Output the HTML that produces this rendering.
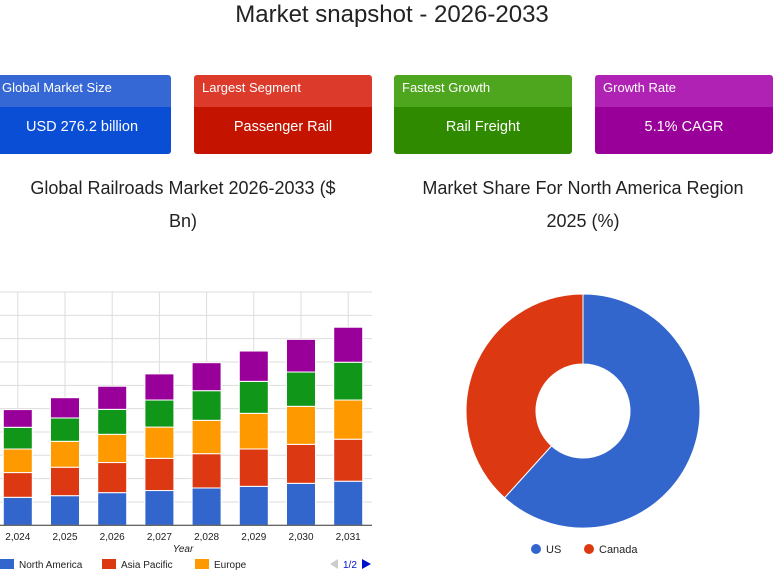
<!DOCTYPE html>
<html><head><meta charset="utf-8"><style>
body{margin:0;width:784px;height:587px;background:#fff;font-family:"Liberation Sans",sans-serif;overflow:hidden;position:relative}
.t{position:absolute;color:#222;text-align:center}
.card{position:absolute;top:75px;width:178px;height:79px;border-radius:3px;overflow:hidden;color:#fff}
.card .h{height:32px;font-size:13px;line-height:26px;padding-left:8px}
.card .b{height:47px;font-size:14.5px;text-align:center;line-height:40px}
</style></head><body>
<div class="t" style="left:0;width:784px;top:0;font-size:24px;line-height:30px">Market snapshot - 2026-2033</div>
<div class="card" style="left:-7px"><div class="h" style="background:#3568d4;padding-left:9px">Global Market Size</div><div class="b" style="background:#0b4ed6">USD 276.2 billion</div></div>
<div class="card" style="left:194px"><div class="h" style="background:#dc3a2a">Largest Segment</div><div class="b" style="background:#c41400">Passenger Rail</div></div>
<div class="card" style="left:394px"><div class="h" style="background:#4ea51e">Fastest Growth</div><div class="b" style="background:#2f8a00">Rail Freight</div></div>
<div class="card" style="left:595px"><div class="h" style="background:#b022b3">Growth Rate</div><div class="b" style="background:#990099">5.1% CAGR</div></div>
<div class="t" style="left:0;width:366px;top:172px;font-size:18px;line-height:33px">Global Railroads Market 2026-2033 ($<br>Bn)</div>
<div class="t" style="left:395px;width:376px;top:172px;font-size:18px;line-height:33px">Market Share For North America Region<br>2025 (%)</div>
<svg id="bar" width="784" height="587" style="position:absolute;left:0;top:0"></svg>
<script>
const years=["2,024","2,025","2,026","2,027","2,028","2,029","2,030","2,031"];
const northAmerica=[12,12.7,14,14.9,16,16.7,18,18.9];
const asiaPacific=[10.6,12.2,12.9,13.8,14.7,16,16.7,18];
const europe=[10.1,11.1,12.1,13.4,14.3,15.3,16.3,16.8];
const green=[9.3,10,10.7,11.6,12.7,13.7,14.7,16.2];
const purple=[7.6,8.7,9.9,11.2,12,13,14,15];
const seriesNames=["North America","Asia Pacific","Europe"];
const usShare=61.7, canadaShare=38.3;
const NS="http://www.w3.org/2000/svg";
const svg=document.getElementById('bar');
function mk(t,a,p){const e=document.createElementNS(NS,t);for(const k in a)e.setAttribute(k,a[k]);(p||svg).appendChild(e);return e;}
const base=525.3, unit=2.333, x0=17.8, step=47.2, bw=29;
const y=v=>base-v*unit, x=i=>x0+i*step;
for(let g=1;g<=10;g++){const l=mk('line',{x1:0,x2:372,y1:y(g*10),y2:y(g*10),stroke:'#ddd'});}
years.forEach((yr,i)=>{const l=mk('line',{x1:x(i),x2:x(i),y1:292,y2:base,stroke:'#ddd'});});
const series=[northAmerica,asiaPacific,europe,green,purple];
const cols=['#3366cc','#dc3912','#ff9900','#109618','#990099'];
years.forEach((yr,i)=>{let acc=0;series.forEach((s,k)=>{const r=mk('rect',{x:x(i)-bw/2,y:y(acc+s[i]),width:bw,height:s[i]*unit,fill:cols[k],stroke:'#fff','stroke-width':1});acc+=s[i];});
const t=mk('text',{x:x(i),y:540,'text-anchor':'middle','font-size':10,fill:'#222'});t.textContent=yr;});
const bl=mk('line',{x1:0,x2:372,y1:base,y2:base,stroke:'#333'});
const xt=mk('text',{x:183,y:552,'text-anchor':'middle','font-size':10,'font-style':'italic',fill:'#222'});xt.textContent='Year';
const lx=[0,102,195];
seriesNames.forEach((n,k)=>{const g=mk('g',{});mk('rect',{x:lx[k],y:559,width:14,height:10,fill:cols[k]},g);const t=mk('text',{x:lx[k]+19,y:568,'font-size':10,fill:'#222'},g);t.textContent=n;});
const pg=mk('g',{});
mk('polygon',{points:'330,564 338,559 338,569',fill:'#ccc'},pg);const pt=mk('text',{x:343,y:568,'font-size':10,fill:'#0011cc'},pg);pt.textContent='1/2';mk('polygon',{points:'362,559 371,564 362,569',fill:'#0011cc'},pg);
// donut
const cx=583,cy=411,R=117,r=47;
function arc(a0,a1,c,name){const p=(a,rad)=>[cx+rad*Math.sin(a),cy-rad*Math.cos(a)];const lg=(a1-a0)>Math.PI?1:0;const[a,b]=p(a0,R),[c2,d]=p(a1,R),[e,f]=p(a1,r),[g,h]=p(a0,r);
const el=mk('path',{d:`M${a},${b}A${R},${R} 0 ${lg} 1 ${c2},${d}L${e},${f}A${r},${r} 0 ${lg} 0 ${g},${h}Z`,fill:c,stroke:'#fff','stroke-width':1});}
const tot=usShare+canadaShare, a1=usShare/tot*2*Math.PI;
arc(0,a1,'#3366cc','donut-slice-us');arc(a1,2*Math.PI,'#dc3912','donut-slice-canada');
[['US',530,'#3366cc'],['Canada',583,'#dc3912']].forEach(([n,lx2,c])=>{const g=mk('g',{});mk('circle',{cx:lx2+6,cy:549,r:5,fill:c},g);const t=mk('text',{x:lx2+16,y:553,'font-size':11,fill:'#222'},g);t.textContent=n;});
</script>
</body></html>
